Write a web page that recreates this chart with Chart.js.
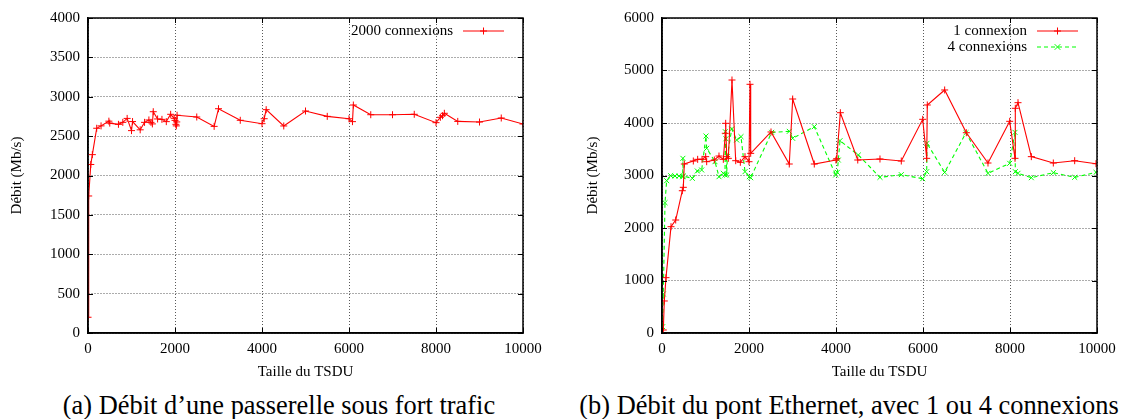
<!DOCTYPE html>
<html>
<head>
<meta charset="utf-8">
<script src="https://cdn.jsdelivr.net/npm/chart.js@4/dist/chart.umd.min.js"></script>
<style>
  body { margin: 0; background: #fff; width: 1124px; height: 419px; overflow: hidden; position: relative; font-family: "Liberation Serif", serif; }
  .wrap { position: absolute; top: 0; }
  .caption { position: absolute; top: 390px; height: 30px; line-height: 30px; font-size: 26.4px; color: #000; text-align: center; white-space: nowrap; }
</style>
</head>
<body>
<div class="wrap" style="left:0"><canvas id="chartA" width="560" height="385"></canvas></div>
<div class="wrap" style="left:560px"><canvas id="chartB" width="564" height="385"></canvas></div>
<div class="caption" style="left:0;width:558px">(a) Débit d’une passerelle sous fort trafic</div>
<div class="caption" style="left:560px;width:578px">(b) Débit du pont Ethernet, avec 1 ou 4 connexions</div>
<script>
// (a) gateway under heavy load: 2000 connections
const tsduA = [1, 16, 64, 100, 200, 300, 480, 500, 700, 800, 900, 1000, 1024, 1200, 1300, 1400, 1448, 1480, 1500, 1600,
  1700, 1800, 1900, 1980, 2000, 2020, 2030, 2040, 2048, 2500, 2900, 3000, 3500, 4000, 4050, 4096, 4500, 5000, 5500, 6000,
  6080, 6100, 6500, 7000, 7500, 8000, 8100, 8150, 8192, 8500, 9000, 9500, 10000];
const debit2000 = [200, 1740, 2140, 2265, 2600, 2630, 2690, 2665, 2650, 2675, 2725, 2570, 2685, 2580, 2675, 2705, 2675, 2655, 2810, 2718,
  2713, 2684, 2777, 2726, 2700, 2650, 2630, 2680, 2765, 2743, 2624, 2848, 2701, 2658, 2721, 2836, 2629, 2819, 2751, 2721,
  2684, 2895, 2772, 2772, 2777, 2671, 2739, 2759, 2790, 2687, 2679, 2730, 2654];

// (b) Ethernet bridge, 1 connection
const tsdu1 = [30, 53, 92, 207, 315, 467, 490, 513, 720, 820, 920, 1004, 1027, 1203, 1310, 1410, 1456, 1464, 1487, 1525,
  1609, 1694, 1801, 1908, 2000, 2023, 2039, 2506, 2926, 3004, 3501, 4000, 4016, 4100, 4500, 5011, 5501, 5993, 6085, 6099,
  6498, 6996, 7494, 7993, 8115, 8122, 8184, 8490, 8996, 9487, 9977];
const debit1 = [57, 610, 1054, 2025, 2152, 2710, 2775, 3219, 3276, 3308, 3308, 3359, 3263, 3295, 3371, 3308, 3804, 3994, 3359, 3327,
  4819, 3282, 3251, 3359, 3263, 4737, 3422, 3829, 3219, 4457, 3219, 3295, 3320, 4196, 3295, 3314, 3276, 4070, 3327, 4343,
  4629, 3815, 3238, 4032, 3327, 4280, 4387, 3359, 3238, 3282, 3225];

// (b) Ethernet bridge, 4 connections
const tsdu4 = [15, 30, 69, 107, 200, 299, 391, 475, 480, 490, 697, 812, 912, 1011, 1027, 1218, 1310, 1410, 1448, 1456,
  1470, 1487, 1502, 1602, 1717, 1816, 1908, 2007, 2039, 2521, 2926, 3004, 3501, 3993, 4030, 4053, 4092, 4513, 5011, 5501,
  5993, 6085, 6092, 6498, 6989, 7494, 7993, 8115, 8122, 8184, 8490, 8996, 9487, 9977];
const debit4 = [120, 743, 2482, 2901, 2996, 2990, 2990, 2977, 3327, 2990, 2946, 3086, 3105, 3752, 3518, 3263, 2977, 3042, 3010, 3834,
  3700, 3010, 3359, 3886, 3676, 3740, 3073, 2977, 2958, 3822, 3841, 3708, 3930, 3010, 3060, 3295, 3663, 3390, 2965, 3016,
  2939, 3073, 3613, 3060, 3815, 3042, 3232, 3822, 3073, 3042, 2958, 3054, 2965, 3060];

const xTicks = [0, 2000, 4000, 6000, 8000, 10000];
const FONT = '"Liberation Serif", "Times New Roman", serif';

const toPoints = (xs, ys) => xs.map((x, i) => ({ x, y: ys[i] }));

function series(label, xs, ys, color, style, dash) {
  return {
    label, data: toPoints(xs, ys),
    borderColor: color, backgroundColor: color,
    borderWidth: 1.1, borderDash: dash || [],
    pointStyle: style, pointRadius: 3.5, pointBorderWidth: 1, pointBorderColor: color,
    showLine: true, tension: 0, fill: false
  };
}

// gnuplot look: full black box, inward ticks on all sides, key text left of its sample
const gnuplotFrame = {
  id: "gnuplotFrame",
  afterDraw(chart) {
    const { ctx, chartArea: a, scales: { x, y } } = chart;
    ctx.save();
    ctx.strokeStyle = "#000";
    ctx.lineWidth = 1;
    ctx.setLineDash([]);
    ctx.beginPath();
    x.ticks.forEach(t => {
      const px = Math.round(x.getPixelForValue(t.value)) + 0.5;
      ctx.moveTo(px, a.bottom); ctx.lineTo(px, a.bottom - 5);
      ctx.moveTo(px, a.top); ctx.lineTo(px, a.top + 5);
    });
    y.ticks.forEach(t => {
      const py = Math.round(y.getPixelForValue(t.value)) + 0.5;
      ctx.moveTo(a.left, py); ctx.lineTo(a.left + 5, py);
      ctx.moveTo(a.right, py); ctx.lineTo(a.right - 5, py);
    });
    ctx.stroke();
    ctx.lineWidth = 1.5;
    ctx.strokeRect(a.left, a.top, a.right - a.left, a.bottom - a.top);

    ctx.font = `15px ${FONT}`;
    ctx.fillStyle = "#000";
    ctx.textAlign = "right";
    ctx.textBaseline = "middle";
    chart.data.datasets.forEach((ds, i) => {
      const ly = a.top + 13 + i * 16;
      ctx.fillText(ds.label, a.right - 70, ly);
      ctx.strokeStyle = ds.borderColor;
      ctx.lineWidth = ds.borderWidth;
      ctx.setLineDash(ds.borderDash);
      ctx.beginPath();
      ctx.moveTo(a.right - 60, ly); ctx.lineTo(a.right - 19, ly);
      ctx.stroke();
      ctx.setLineDash([]);
      ctx.lineWidth = 1;
      const mx = a.right - 39.5, r = 3.5;
      ctx.beginPath();
      if (ds.pointStyle === "crossRot") {
        const d = r * 0.8;
        ctx.moveTo(mx - d, ly - d); ctx.lineTo(mx + d, ly + d);
        ctx.moveTo(mx - d, ly + d); ctx.lineTo(mx + d, ly - d);
      } else {
        ctx.moveTo(mx - r, ly); ctx.lineTo(mx + r, ly);
        ctx.moveTo(mx, ly - r); ctx.lineTo(mx, ly + r);
      }
      ctx.stroke();
    });
    ctx.restore();
  }
};

function makeChart(id, datasets, yMax, yStep, yAxisWidth, titleGap, padRight) {
  const tickFont = { family: FONT, size: 15 };
  return new Chart(document.getElementById(id), {
    type: "scatter",
    data: { datasets },
    options: {
      responsive: false, animation: false, devicePixelRatio: 1,
      layout: { padding: { left: 0, top: 18, right: padRight, bottom: 4 } },
      plugins: { legend: { display: false }, tooltip: { enabled: false } },
      scales: {
        x: {
          type: "linear", min: 0, max: 10000,
          afterBuildTicks: s => { s.ticks = xTicks.map(v => ({ value: v })); },
          afterFit: s => { s.height = 48; },
          ticks: { color: "#000", font: tickFont, padding: 7, maxRotation: 0, callback: v => String(v) },
          grid: { color: "rgba(0,0,0,0.65)", lineWidth: 1, drawTicks: false },
          border: { display: true, color: "#000", width: 1.5, dash: [1, 2] },
          title: { display: true, text: "Taille du TSDU", color: "#000", font: tickFont, padding: { top: 0, bottom: 0 } }
        },
        y: {
          min: 0, max: yMax,
          ticks: { stepSize: yStep, color: "#000", font: tickFont, padding: 8, callback: v => String(v) },
          afterFit: s => { s.width = yAxisWidth; },
          grid: { color: "rgba(0,0,0,0.65)", lineWidth: 1, drawTicks: false },
          border: { display: true, color: "#000", width: 1.5, dash: [1, 2] },
          title: { display: true, text: "Débit (Mb/s)", color: "#000", font: tickFont, padding: { top: titleGap, bottom: 0 } }
        }
      }
    },
    plugins: [gnuplotFrame]
  });
}

makeChart("chartA", [
  series("2000 connexions", tsduA, debit2000, "#ff0000", "cross")
], 4000, 500, 88, 8, 37);

makeChart("chartB", [
  series("1 connexion", tsdu1, debit1, "#ff0000", "cross"),
  series("4 connexions", tsdu4, debit4, "#00ff00", "crossRot", [4, 3])
], 6000, 1000, 102, 24, 27);
</script>
</body>
</html>
